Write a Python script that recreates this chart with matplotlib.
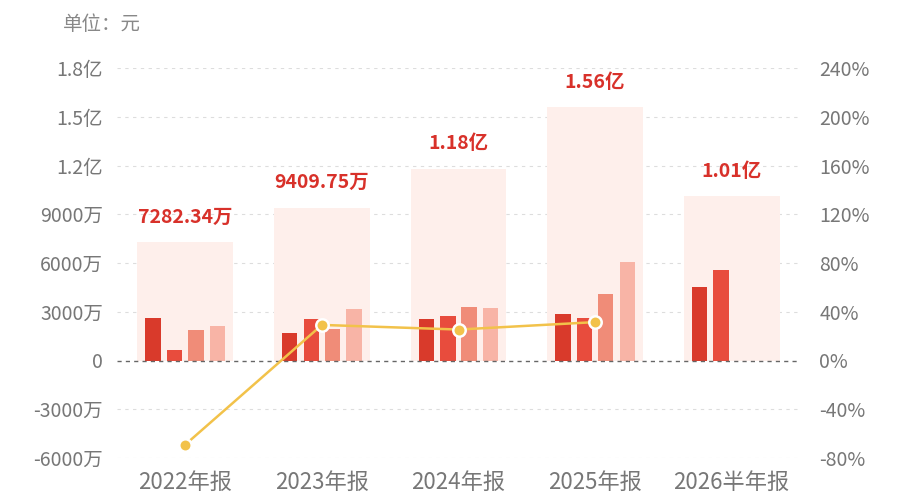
import matplotlib
matplotlib.use("Agg")
import matplotlib.pyplot as plt
import numpy as np

plt.rcParams['font.family'] = ['Noto Sans CJK SC', 'DejaVu Sans']

# data (units: 万元)
categories = ["2022年报", "2023年报", "2024年报", "2025年报", "2026半年报"]
totals = [7282.34, 9409.75, 11800, 15600, 10100]
total_labels = ["7282.34万", "9409.75万", "1.18亿", "1.56亿", "1.01亿"]
q1 = [2600, 1700, 2550, 2850, 4520]
q2 = [650, 2560, 2730, 2600, 5580]
q3 = [1900, 1950, 3290, 4080, None]
q4 = [2130, 3200, 3230, 6070, None]
growth = [-69.0, 29.2, 25.4, 31.5]  # % YoY, 2022-2025

left_ticks = [-6000, -3000, 0, 3000, 6000, 9000, 12000, 15000, 18000]
right_ticks = [-80, -40, 0, 40, 80, 120, 160, 200, 240]

fig = plt.figure(figsize=(9, 5), dpi=100)
ax = fig.add_axes([117/900, 42/500, (800-117)/900, (458-68)/500])
ax2 = ax.twinx()

x = np.arange(len(categories))
bg_w = 0.70
bw = 0.113
offs = [-0.236, -0.078, 0.078, 0.236]
cols = ['#D93A2B', '#E84C3D', '#F08C78', '#F8B4A6']

ax.bar(x, totals, width=bg_w, color='#FEEFEB', zorder=1)
for series, off, c in zip([q1, q2, q3, q4], offs, cols):
    xs = [xi + off for xi, v in zip(x, series) if v is not None]
    vs = [v for v in series if v is not None]
    ax.bar(xs, vs, width=bw, color=c, zorder=3)

for xi, t, lab in zip(x, totals, total_labels):
    ax.annotate(lab, (xi, t), xytext=(0, 11), textcoords='offset points',
                ha='center', va='bottom', color='#D8312A', fontsize=14, fontweight='bold')

ax.set_ylim(-6000, 18000)
ax.set_xlim(-0.5, 4.5)
ax.set_yticks(left_ticks)

def fmt_left(v):
    if v == 0:
        return "0"
    if abs(v) < 10000:
        return f"{v}万"
    return f"{v/10000:.1f}亿"

ax.set_yticklabels([fmt_left(v) for v in left_ticks])
for v in left_ticks:
    if v == 0:
        ax.axhline(v, color='#666666', lw=1.0, ls=(0, (3, 3)), zorder=4)
    else:
        ax.axhline(v, color='#DDDDDD', lw=0.8, ls=(0, (3, 4)), zorder=0)

ax.set_xticks(x)
ax.set_xticklabels(categories)
ax.tick_params(axis='x', length=0, pad=9, labelsize=16, labelcolor='#777777')
ax.tick_params(axis='y', length=0, pad=10, labelsize=14, labelcolor='#777777')

ax2.set_ylim(-80, 240)
ax2.set_yticks(right_ticks)
ax2.set_yticklabels([f"{v}%" for v in right_ticks])
ax2.tick_params(axis='y', length=0, pad=14, labelsize=14, labelcolor='#777777')

ax2.plot(x[:len(growth)], growth, color='#F2C24A', lw=1.8, zorder=5)
ax2.scatter(x[:len(growth)], growth, s=80, color='#F2C24A', edgecolor='white',
            linewidth=1.8, zorder=6)

for a in (ax, ax2):
    for s in a.spines.values():
        s.set_visible(False)
ax.set_zorder(ax2.get_zorder() - 1)
ax.patch.set_visible(False)
ax2.patch.set_visible(False)

fig.text(63/900, 1 - 25/500, "单位：元", ha='left', va='center', fontsize=14, color='#888888')

fig.savefig("out.png", dpi=100)
